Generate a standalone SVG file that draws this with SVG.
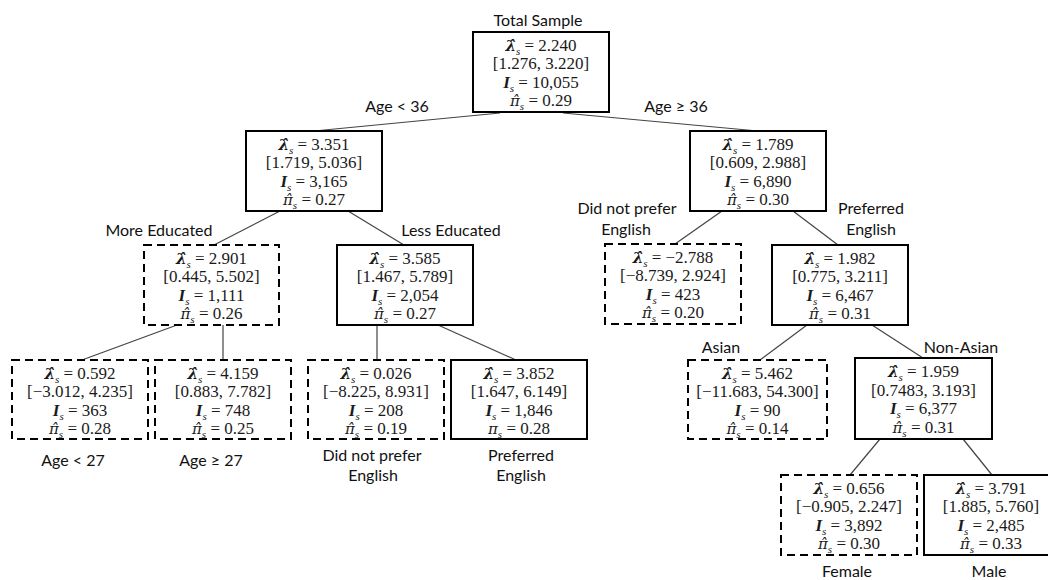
<svg xmlns="http://www.w3.org/2000/svg" width="1048" height="580" viewBox="0 0 1048 580">
<style>
.box{fill:#fff;stroke:#000;stroke-width:2}
.dash{stroke-dasharray:8 5}
.t{font-family:"Liberation Serif","DejaVu Serif",serif;font-size:17px;text-anchor:middle;fill:#1a1a1a}
.v{font-style:italic;font-weight:bold}
.lam{font-family:"DejaVu Serif",serif;font-style:italic;font-weight:bold;font-size:15px}
.g{font-family:"DejaVu Serif",serif;font-style:italic;font-size:15px}
.sub{font-size:11px;font-style:italic}
.lab{font-family:Lato,"Liberation Sans",sans-serif;font-size:16px;text-anchor:middle;fill:#111}
.edge{stroke:#444;stroke-width:1.2;fill:none}
</style>
<rect width="1048" height="580" fill="#fff"/>
<g id="connectors">
<line class="edge" x1="500" y1="113" x2="314" y2="131"/>
<line class="edge" x1="563" y1="113" x2="758" y2="131"/>
<line class="edge" x1="280" y1="211" x2="214" y2="245"/>
<line class="edge" x1="348" y1="211" x2="404" y2="245"/>
<line class="edge" x1="722" y1="211" x2="675" y2="244"/>
<line class="edge" x1="793" y1="211" x2="838" y2="245"/>
<line class="edge" x1="177" y1="325" x2="82" y2="360"/>
<line class="edge" x1="223" y1="325" x2="223" y2="360"/>
<line class="edge" x1="377" y1="325" x2="377" y2="360"/>
<line class="edge" x1="438" y1="325" x2="516" y2="360"/>
<line class="edge" x1="807" y1="325" x2="760" y2="360"/>
<line class="edge" x1="872" y1="325" x2="923" y2="358"/>
<line class="edge" x1="880" y1="439" x2="850" y2="475"/>
<line class="edge" x1="963" y1="439" x2="992" y2="475"/>
</g>
<g id="labels">
<text class="lab" x="538" y="26">Total Sample</text>
<text class="lab" x="397" y="112">Age &lt; 36</text>
<text class="lab" x="676" y="112">Age ≥ 36</text>
<text class="lab" x="159" y="236">More Educated</text>
<text class="lab" x="451" y="236">Less Educated</text>
<text class="lab" x="627" y="214">Did not prefer</text>
<text class="lab" x="626" y="235">English</text>
<text class="lab" x="871" y="214">Preferred</text>
<text class="lab" x="871" y="235">English</text>
<text class="lab" x="73" y="466">Age &lt; 27</text>
<text class="lab" x="211" y="466">Age ≥ 27</text>
<text class="lab" x="372" y="461">Did not prefer</text>
<text class="lab" x="373" y="481">English</text>
<text class="lab" x="521" y="461">Preferred</text>
<text class="lab" x="521" y="481">English</text>
<text class="lab" x="721" y="353">Asian</text>
<text class="lab" x="961" y="353">Non-Asian</text>
<text class="lab" x="847" y="577">Female</text>
<text class="lab" x="989" y="577">Male</text>
</g>
<g id="n-root">
<rect class="box" x="473" y="32" width="136" height="80"/>
<text class="t" x="541" y="50.5"><tspan class="lam">λ̂</tspan><tspan class="sub" dy="4">s</tspan><tspan dy="-4"> = 2.240</tspan></text>
<text class="t" x="541" y="69">[1.276, 3.220]</text>
<text class="t" x="541" y="87.5"><tspan class="v">I</tspan><tspan class="sub" dy="4">s</tspan><tspan dy="-4"> = 10,055</tspan></text>
<text class="t" x="541" y="106"><tspan class="g">π̂</tspan><tspan class="sub" dy="4">s</tspan><tspan dy="-4"> = 0.29</tspan></text>
</g>
<g id="n-age-lt-36">
<rect class="box" x="246" y="131" width="136" height="80"/>
<text class="t" x="314" y="149.5"><tspan class="lam">λ̂</tspan><tspan class="sub" dy="4">s</tspan><tspan dy="-4"> = 3.351</tspan></text>
<text class="t" x="314" y="168">[1.719, 5.036]</text>
<text class="t" x="314" y="186.5"><tspan class="v">I</tspan><tspan class="sub" dy="4">s</tspan><tspan dy="-4"> = 3,165</tspan></text>
<text class="t" x="314" y="205"><tspan class="g">π̂</tspan><tspan class="sub" dy="4">s</tspan><tspan dy="-4"> = 0.27</tspan></text>
</g>
<g id="n-age-ge-36">
<rect class="box" x="690" y="131" width="136" height="80"/>
<text class="t" x="758" y="149.5"><tspan class="lam">λ̂</tspan><tspan class="sub" dy="4">s</tspan><tspan dy="-4"> = 1.789</tspan></text>
<text class="t" x="758" y="168">[0.609, 2.988]</text>
<text class="t" x="758" y="186.5"><tspan class="v">I</tspan><tspan class="sub" dy="4">s</tspan><tspan dy="-4"> = 6,890</tspan></text>
<text class="t" x="758" y="205"><tspan class="g">π̂</tspan><tspan class="sub" dy="4">s</tspan><tspan dy="-4"> = 0.30</tspan></text>
</g>
<g id="n-more-educated">
<rect class="box dash" x="144" y="245" width="135" height="80"/>
<text class="t" x="211.5" y="263.5"><tspan class="lam">λ̂</tspan><tspan class="sub" dy="4">s</tspan><tspan dy="-4"> = 2.901</tspan></text>
<text class="t" x="211.5" y="282">[0.445, 5.502]</text>
<text class="t" x="211.5" y="300.5"><tspan class="v">I</tspan><tspan class="sub" dy="4">s</tspan><tspan dy="-4"> = 1,111</tspan></text>
<text class="t" x="211.5" y="319"><tspan class="g">π̂</tspan><tspan class="sub" dy="4">s</tspan><tspan dy="-4"> = 0.26</tspan></text>
</g>
<g id="n-less-educated">
<rect class="box" x="337" y="245" width="136" height="80"/>
<text class="t" x="405" y="263.5"><tspan class="lam">λ̂</tspan><tspan class="sub" dy="4">s</tspan><tspan dy="-4"> = 3.585</tspan></text>
<text class="t" x="405" y="282">[1.467, 5.789]</text>
<text class="t" x="405" y="300.5"><tspan class="v">I</tspan><tspan class="sub" dy="4">s</tspan><tspan dy="-4"> = 2,054</tspan></text>
<text class="t" x="405" y="319"><tspan class="g">π̂</tspan><tspan class="sub" dy="4">s</tspan><tspan dy="-4"> = 0.27</tspan></text>
</g>
<g id="n-did-not-prefer-english-r">
<rect class="box dash" x="605" y="244" width="136" height="80"/>
<text class="t" x="673" y="262.5"><tspan class="lam">λ̂</tspan><tspan class="sub" dy="4">s</tspan><tspan dy="-4"> = −2.788</tspan></text>
<text class="t" x="673" y="281">[−8.739, 2.924]</text>
<text class="t" x="673" y="299.5"><tspan class="v">I</tspan><tspan class="sub" dy="4">s</tspan><tspan dy="-4"> = 423</tspan></text>
<text class="t" x="673" y="318"><tspan class="g">π̂</tspan><tspan class="sub" dy="4">s</tspan><tspan dy="-4"> = 0.20</tspan></text>
</g>
<g id="n-preferred-english-r">
<rect class="box" x="772" y="245" width="136" height="80"/>
<text class="t" x="840" y="263.5"><tspan class="lam">λ̂</tspan><tspan class="sub" dy="4">s</tspan><tspan dy="-4"> = 1.982</tspan></text>
<text class="t" x="840" y="282">[0.775, 3.211]</text>
<text class="t" x="840" y="300.5"><tspan class="v">I</tspan><tspan class="sub" dy="4">s</tspan><tspan dy="-4"> = 6,467</tspan></text>
<text class="t" x="840" y="319"><tspan class="g">π̂</tspan><tspan class="sub" dy="4">s</tspan><tspan dy="-4"> = 0.31</tspan></text>
</g>
<g id="n-age-lt-27">
<rect class="box dash" x="12" y="360" width="136" height="79"/>
<text class="t" x="80" y="378.5"><tspan class="lam">λ̂</tspan><tspan class="sub" dy="4">s</tspan><tspan dy="-4"> = 0.592</tspan></text>
<text class="t" x="80" y="397">[−3.012, 4.235]</text>
<text class="t" x="80" y="415.5"><tspan class="v">I</tspan><tspan class="sub" dy="4">s</tspan><tspan dy="-4"> = 363</tspan></text>
<text class="t" x="80" y="434"><tspan class="g">π̂</tspan><tspan class="sub" dy="4">s</tspan><tspan dy="-4"> = 0.28</tspan></text>
</g>
<g id="n-age-ge-27">
<rect class="box dash" x="155" y="360" width="136" height="79"/>
<text class="t" x="223" y="378.5"><tspan class="lam">λ̂</tspan><tspan class="sub" dy="4">s</tspan><tspan dy="-4"> = 4.159</tspan></text>
<text class="t" x="223" y="397">[0.883, 7.782]</text>
<text class="t" x="223" y="415.5"><tspan class="v">I</tspan><tspan class="sub" dy="4">s</tspan><tspan dy="-4"> = 748</tspan></text>
<text class="t" x="223" y="434"><tspan class="g">π̂</tspan><tspan class="sub" dy="4">s</tspan><tspan dy="-4"> = 0.25</tspan></text>
</g>
<g id="n-did-not-prefer-english-l">
<rect class="box dash" x="308" y="360" width="136" height="79"/>
<text class="t" x="376" y="378.5"><tspan class="lam">λ̂</tspan><tspan class="sub" dy="4">s</tspan><tspan dy="-4"> = 0.026</tspan></text>
<text class="t" x="376" y="397">[−8.225, 8.931]</text>
<text class="t" x="376" y="415.5"><tspan class="v">I</tspan><tspan class="sub" dy="4">s</tspan><tspan dy="-4"> = 208</tspan></text>
<text class="t" x="376" y="434"><tspan class="g">π̂</tspan><tspan class="sub" dy="4">s</tspan><tspan dy="-4"> = 0.19</tspan></text>
</g>
<g id="n-preferred-english-l">
<rect class="box" x="451" y="360" width="136" height="79"/>
<text class="t" x="519" y="378.5"><tspan class="lam">λ̂</tspan><tspan class="sub" dy="4">s</tspan><tspan dy="-4"> = 3.852</tspan></text>
<text class="t" x="519" y="397">[1.647, 6.149]</text>
<text class="t" x="519" y="415.5"><tspan class="v">I</tspan><tspan class="sub" dy="4">s</tspan><tspan dy="-4"> = 1,846</tspan></text>
<text class="t" x="519" y="434"><tspan class="g">π</tspan><tspan class="sub" dy="4">s</tspan><tspan dy="-4"> = 0.28</tspan></text>
</g>
<g id="n-asian">
<rect class="box dash" x="688" y="360" width="139" height="79"/>
<text class="t" x="757.5" y="378.5"><tspan class="lam">λ̂</tspan><tspan class="sub" dy="4">s</tspan><tspan dy="-4"> = 5.462</tspan></text>
<text class="t" x="757.5" y="397">[−11.683, 54.300]</text>
<text class="t" x="757.5" y="415.5"><tspan class="v">I</tspan><tspan class="sub" dy="4">s</tspan><tspan dy="-4"> = 90</tspan></text>
<text class="t" x="757.5" y="434"><tspan class="g">π̂</tspan><tspan class="sub" dy="4">s</tspan><tspan dy="-4"> = 0.14</tspan></text>
</g>
<g id="n-non-asian">
<rect class="box" x="855" y="358" width="137" height="81"/>
<text class="t" x="923.5" y="377"><tspan class="lam">λ̂</tspan><tspan class="sub" dy="4">s</tspan><tspan dy="-4"> = 1.959</tspan></text>
<text class="t" x="923.5" y="395.5">[0.7483, 3.193]</text>
<text class="t" x="923.5" y="414"><tspan class="v">I</tspan><tspan class="sub" dy="4">s</tspan><tspan dy="-4"> = 6,377</tspan></text>
<text class="t" x="923.5" y="432.5"><tspan class="g">π̂</tspan><tspan class="sub" dy="4">s</tspan><tspan dy="-4"> = 0.31</tspan></text>
</g>
<g id="n-female">
<rect class="box dash" x="781" y="475" width="136" height="80"/>
<text class="t" x="849" y="493.5"><tspan class="lam">λ̂</tspan><tspan class="sub" dy="4">s</tspan><tspan dy="-4"> = 0.656</tspan></text>
<text class="t" x="849" y="512">[−0.905, 2.247]</text>
<text class="t" x="849" y="530.5"><tspan class="v">I</tspan><tspan class="sub" dy="4">s</tspan><tspan dy="-4"> = 3,892</tspan></text>
<text class="t" x="849" y="549"><tspan class="g">π̂</tspan><tspan class="sub" dy="4">s</tspan><tspan dy="-4"> = 0.30</tspan></text>
</g>
<g id="n-male">
<rect class="box" x="924" y="475" width="134" height="80"/>
<text class="t" x="991" y="493.5"><tspan class="lam">λ̂</tspan><tspan class="sub" dy="4">s</tspan><tspan dy="-4"> = 3.791</tspan></text>
<text class="t" x="991" y="512">[1.885, 5.760]</text>
<text class="t" x="991" y="530.5"><tspan class="v">I</tspan><tspan class="sub" dy="4">s</tspan><tspan dy="-4"> = 2,485</tspan></text>
<text class="t" x="991" y="549"><tspan class="g">π̂</tspan><tspan class="sub" dy="4">s</tspan><tspan dy="-4"> = 0.33</tspan></text>
</g>
</svg>
